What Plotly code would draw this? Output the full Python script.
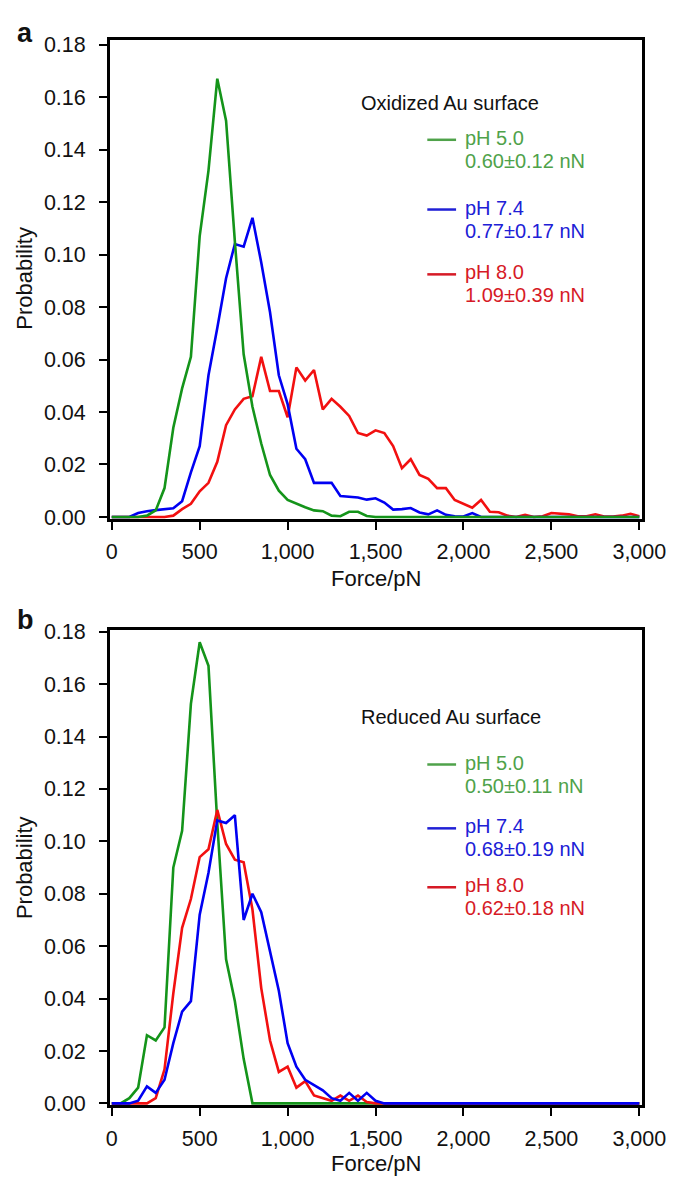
import plotly.graph_objects as go

# ---------------- data ----------------
force = list(range(0, 3001, 50))  # pN, 61 bins

# Panel a: oxidized Au surface
a_ph50 = [0, 0, 0, 0, 0.0005, 0.0025, 0.011, 0.034, 0.049, 0.061,
          0.107, 0.132, 0.167, 0.151, 0.105, 0.062, 0.042, 0.028, 0.016, 0.010,
          0.0065, 0.005, 0.0037, 0.0025, 0.0022, 0.0005, 0.0003, 0.002, 0.002, 0.0004,
          0, 0, 0, 0, 0, 0, 0, 0, 0, 0,
          0, 0, 0, 0, 0, 0, 0, 0, 0, 0,
          0, 0, 0, 0, 0, 0, 0, 0, 0, 0, 0]
a_ph74 = [0, 0, 0, 0.0015, 0.0022, 0.0026, 0.003, 0.0033, 0.006, 0.017,
          0.027, 0.054, 0.072, 0.091, 0.104, 0.103, 0.114, 0.097, 0.078, 0.054,
          0.043, 0.026, 0.022, 0.013, 0.013, 0.013, 0.008, 0.0077, 0.0074, 0.0066,
          0.0071, 0.0055, 0.0028, 0.003, 0.0034, 0.0017, 0.001, 0.0025, 0.0008, 0.0003,
          0.0002, 0.0015, 0, 0, 0, 0, 0, 0, 0, 0,
          0, 0, 0, 0, 0, 0, 0, 0, 0, 0, 0]
a_ph80 = [0, 0, 0, 0, 0, 0, 0, 0.0005, 0.003, 0.005,
          0.0098, 0.013, 0.021, 0.035, 0.041, 0.045, 0.046, 0.061, 0.048, 0.048,
          0.038, 0.057, 0.052, 0.056, 0.041, 0.045, 0.042, 0.0385, 0.032, 0.031,
          0.033, 0.032, 0.027, 0.0186, 0.022, 0.016, 0.0145, 0.011, 0.011, 0.0065,
          0.005, 0.0035, 0.0065, 0.002, 0.0018, 0.0005, 0, 0.0008, 0, 0.0003,
          0.0015, 0.0012, 0.001, 0.0003, 0.0003, 0.001, 0.0002, 0.0002, 0.0005, 0.0012, 0.0003]

# Panel b: reduced Au surface
b_ph50 = [0, 0, 0.002, 0.006, 0.026, 0.024, 0.029, 0.090, 0.104, 0.1525,
          0.176, 0.167, 0.107, 0.055, 0.039, 0.017, 0, 0, 0, 0,
          0, 0, 0, 0, 0, 0, 0, 0, 0, 0,
          0, 0, 0, 0, 0, 0, 0, 0, 0, 0,
          0, 0, 0, 0, 0, 0, 0, 0, 0, 0,
          0, 0, 0, 0, 0, 0, 0, 0, 0, 0, 0]
b_ph74 = [0, 0, 0, 0.001, 0.0065, 0.004, 0.009, 0.023, 0.035, 0.039,
          0.072, 0.088, 0.108, 0.107, 0.110, 0.070, 0.080, 0.073, 0.058, 0.043,
          0.023, 0.014, 0.009, 0.007, 0.005, 0.002, 0.001, 0.004, 0.001, 0.004,
          0.001, 0, 0, 0, 0, 0, 0, 0, 0, 0,
          0, 0, 0, 0, 0, 0, 0, 0, 0, 0,
          0, 0, 0, 0, 0, 0, 0, 0, 0, 0, 0]
b_ph80 = [0, 0, 0, 0, 0, 0.002, 0.013, 0.042, 0.067, 0.078,
          0.094, 0.097, 0.112, 0.099, 0.093, 0.092, 0.074, 0.044, 0.024, 0.012,
          0.014, 0.006, 0.0085, 0.003, 0.002, 0.001, 0.003, 0.001, 0.003, 0.0005,
          0, 0, 0, 0, 0, 0, 0, 0, 0, 0,
          0, 0, 0, 0, 0, 0, 0, 0, 0, 0,
          0, 0, 0, 0, 0, 0, 0, 0, 0, 0, 0]

x_tickvals = [0, 500, 1000, 1500, 2000, 2500, 3000]
x_ticktext = ["0", "500", "1,000", "1,500", "2,000", "2,500", "3,000"]
y_tickvals = [0.00, 0.02, 0.04, 0.06, 0.08, 0.10, 0.12, 0.14, 0.16, 0.18]
y_ticktext = ["0.00", "0.02", "0.04", "0.06", "0.08", "0.10", "0.12", "0.14", "0.16", "0.18"]

legend_a_title = "Oxidized Au surface"
legend_b_title = "Reduced Au surface"
legend_a = [("pH 5.0", "0.60±0.12 nN"), ("pH 7.4", "0.77±0.17 nN"), ("pH 8.0", "1.09±0.39 nN")]
legend_b = [("pH 5.0", "0.50±0.11 nN"), ("pH 7.4", "0.68±0.19 nN"), ("pH 8.0", "0.62±0.18 nN")]

# ---------------- style ----------------
W, H = 685, 1182
FONT = "Liberation Sans, Arial, Helvetica, sans-serif"
C_LINE = {"g": "#14941a", "b": "#0000f2", "r": "#f21010"}
C_TEXT = {"g": "#4fa24a", "b": "#2020d6", "r": "#d61a26"}
TICK_SIZE = 21.5
TITLE_SIZE = 22
LEG_SIZE = 20


def px(x):
    return x / W


def py(y):
    return 1 - y / H


fig = go.Figure()

def add(xa, ya, y, key, name):
    fig.add_trace(go.Scatter(x=force, y=y, mode="lines", name=name,
                             line=dict(color=C_LINE[key], width=2.6),
                             xaxis=xa, yaxis=ya, showlegend=False))

add("x", "y", a_ph80, "r", "pH 8.0")
add("x", "y", a_ph74, "b", "pH 7.4")
add("x", "y", a_ph50, "g", "pH 5.0")
add("x2", "y2", b_ph50, "g", "pH 5.0")
add("x2", "y2", b_ph80, "r", "pH 8.0")
add("x2", "y2", b_ph74, "b", "pH 7.4")

xdom = [px(102), px(657)]
common_x = dict(range=[-11, 3016], tickvals=x_tickvals, ticktext=x_ticktext,
                showgrid=False, zeroline=False, showline=True, linecolor="black",
                linewidth=2.5, mirror=True, ticks="outside", ticklen=8, tickwidth=2,
                tickcolor="black", ticklabelstandoff=4,
                tickfont=dict(family=FONT, size=TICK_SIZE, color="#111"),
                domain=xdom)
common_y = dict(tickvals=y_tickvals, ticktext=y_ticktext,
                showgrid=False, zeroline=False, showline=True, linecolor="black",
                linewidth=2.5, mirror=True, ticks="outside", ticklen=8, tickwidth=2,
                tickcolor="black", ticklabelstandoff=9,
                tickfont=dict(family=FONT, size=TICK_SIZE, color="#111"))

fig.update_layout(
    width=W, height=H, margin=dict(l=0, r=0, t=0, b=0),
    paper_bgcolor="white", plot_bgcolor="white",
    xaxis=dict(**common_x, anchor="y"),
    yaxis=dict(**common_y, range=[-0.00075, 0.1819], domain=[py(510), py(22)], anchor="x"),
    xaxis2=dict(**common_x, anchor="y2"),
    yaxis2=dict(**common_y, range=[-0.00075, 0.1807], domain=[py(1107), py(623)], anchor="x2"),
)

ann = []
shapes = []

def text(x, y, s, color="#111", size=20, xanchor="left", bold=False, angle=0):
    ann.append(dict(x=px(x), y=py(y), xref="paper", yref="paper", text=("<b>%s</b>" % s) if bold else s,
                    showarrow=False, xanchor=xanchor, yanchor="middle", textangle=angle,
                    font=dict(family=FONT, size=size, color=color)))

# panel letters
text(3, 15, "a", size=27, bold=True)
text(3, 613, "b", size=27, bold=True)
# axis titles
text(380, 571, "Force/pN", size=TITLE_SIZE, xanchor="center")
text(380, 1166, "Force/pN", size=TITLE_SIZE, xanchor="center")
text(13, 265, "Probability", size=TITLE_SIZE, xanchor="center", angle=-90)
text(13, 865, "Probability", size=TITLE_SIZE, xanchor="center", angle=-90)

# legends
def legend(title, title_y, entries, ys):
    text(362, title_y, title, size=LEG_SIZE)
    for (lab, val), key, y0 in zip(entries, ["g", "b", "r"], ys):
        shapes.append(dict(type="line", xref="paper", yref="paper",
                           x0=px(433), x1=px(463), y0=py(y0 + 2), y1=py(y0 + 2),
                           line=dict(color=C_TEXT[key], width=2.5)))
        text(470, y0, lab, color=C_TEXT[key], size=LEG_SIZE)
        text(470, y0 + 23.5, val, color=C_TEXT[key], size=LEG_SIZE)

legend(legend_a_title, 87, legend_a, [122, 193, 259])
legend(legend_b_title, 712, legend_b, [758, 823, 883])

fig.update_layout(annotations=ann, shapes=shapes)
fig.write_html("out.html")
